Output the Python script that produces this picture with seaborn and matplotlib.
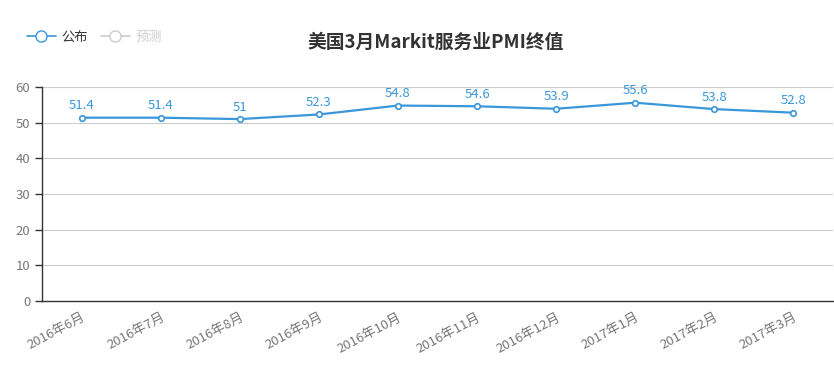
import matplotlib
matplotlib.use("Agg")
import matplotlib.pyplot as plt
from matplotlib.lines import Line2D
import numpy as np
import pandas as pd
import seaborn as sns

# 数据
months = ["2016年6月", "2016年7月", "2016年8月", "2016年9月", "2016年10月",
          "2016年11月", "2016年12月", "2017年1月", "2017年2月", "2017年3月"]
pmi = [51.4, 51.4, 51, 52.3, 54.8, 54.6, 53.9, 55.6, 53.8, 52.8]
title = "美国3月Markit服务业PMI终值"

sns.set_style("white")
plt.rcParams["font.family"] = ["Noto Sans CJK SC", "DejaVu Sans"]

blue = "#3a97d9"
df = pd.DataFrame({"idx": np.arange(len(months)), "pmi": pmi})

fig = plt.figure(figsize=(8.34, 3.76), dpi=100)
ax = fig.add_axes([0.0504, 0.1995, 0.9484, 0.5691])

sns.lineplot(data=df, x="idx", y="pmi", ax=ax, color=blue, linewidth=1.6,
             marker="o", markersize=4, markerfacecolor="white",
             markeredgecolor=blue, markeredgewidth=1.2, zorder=3)

for i, v in enumerate(pmi):
    ax.annotate(f"{v:g}", (i, v), xytext=(0, 4), textcoords="offset points",
                ha="center", va="bottom", fontsize=9.5, color=blue)

ax.set_xlim(-0.5, len(months) - 0.5)
ax.set_ylim(0, 60)
ax.set_yticks(range(0, 61, 10))
ax.yaxis.grid(True, color="#cccccc", linewidth=0.8)
ax.set_axisbelow(True)

# 类目轴：刻度在类目边界
ax.set_xticks(np.arange(-0.5, len(months), 1.0))
ax.set_xticklabels([])
ax.set_xticks(np.arange(len(months)), minor=True)
ax.set_xticklabels(months, minor=True, rotation=28, ha="right",
                   rotation_mode="anchor", fontsize=9.5, color="#777777")
ax.tick_params(axis="x", which="minor", length=0, pad=7)
ax.tick_params(axis="x", which="major", length=5, color="#333333", width=1)
ax.tick_params(axis="y", length=5, color="#333333", width=1, labelsize=9.5,
               labelcolor="#777777", left=True)

for s in ["top", "right"]:
    ax.spines[s].set_visible(False)
for s in ["left", "bottom"]:
    ax.spines[s].set_color("#333333")
    ax.spines[s].set_linewidth(1)

ax.set_xlabel("")
ax.set_ylabel("")

fig.text(0.522, 0.888, title, ha="center", va="center", fontsize=13.5,
         fontweight="bold", color="#333333")

handles = [
    Line2D([0], [0], color=blue, marker="o", markersize=8,
           markerfacecolor="white", markeredgecolor=blue, linewidth=1.2),
    Line2D([0], [0], color="#cccccc", marker="o", markersize=8,
           markerfacecolor="white", markeredgecolor="#cccccc", linewidth=1.2),
]
leg = fig.legend(handles, ["公布", "预测"], loc="center left",
                 bbox_to_anchor=(0.018, 0.9), ncol=2, frameon=False,
                 fontsize=9.5, handlelength=2.2, columnspacing=1.0,
                 handletextpad=0.4)
leg.get_texts()[0].set_color("#333333")
leg.get_texts()[1].set_color("#cccccc")

fig.savefig("out.png", dpi=100)
